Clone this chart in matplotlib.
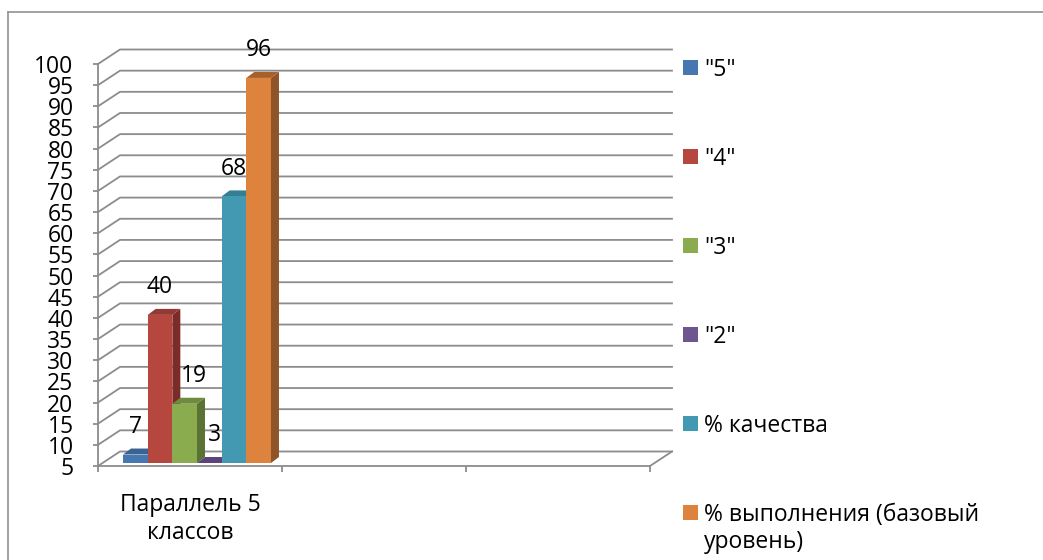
import matplotlib
matplotlib.use('Agg')
import matplotlib.pyplot as plt
import matplotlib.transforms as mtransforms
from matplotlib.patches import Polygon, Rectangle

# data
categories = ['Параллель 5\nклассов', '', '']
series = ['"5"', '"4"', '"3"', '"2"', '% качества', '% выполнения (базовый\nуровень)']
values = [7, 40, 19, 3, 68, 96]
yticks = list(range(5, 101, 5))
ymin, ymax = 5, 100

front_colors = ['#4677b0', '#b5473f', '#8aab4e', '#6e5590', '#4399b2', '#de833e']
side_colors = ['#2f5283', '#7d2b28', '#5a7233', '#4b3866', '#2c6f80', '#8f5427']
top_colors = ['#3a6292', '#943a35', '#6f8b3d', '#5a4479', '#357f93', '#a8602a']

plt.rcParams['font.family'] = ['Open Sans', 'DejaVu Sans']
fs = 16.5
grid_col = '#8c8c8c'

fig = plt.figure(figsize=(10.43, 5.60), dpi=100)

# overlay for frame and legend (pixel coords)
ov = fig.add_axes([0, 0, 1, 1])
ov.set_xlim(0, 1043)
ov.set_ylim(560, 0)
ov.axis('off')
ov.plot([8, 1043], [12, 12], color='#9a9a9a', lw=1.3)
ov.plot([8, 8], [12, 560], color='#9a9a9a', lw=1.3)

# front plane of the 3d chart
ax = fig.add_axes([98 / 1043, (560 - 466) / 560, (650 - 98) / 1043, (466 - 64) / 560])
ax.set_xlim(0, len(categories))
ax.set_ylim(ymin, ymax)
ax.patch.set_alpha(0)
for s in ['top', 'right']:
    ax.spines[s].set_visible(False)
for s in ['left', 'bottom']:
    ax.spines[s].set_color(grid_col)
    ax.spines[s].set_linewidth(1.3)
ax.set_yticks(yticks)
ax.set_yticklabels([str(t) for t in yticks])
ax.set_xticks(range(len(categories) + 1))
ax.set_xticklabels([''] * (len(categories) + 1))
ax.tick_params(axis='y', length=3.6, width=1.3, color=grid_col, pad=14, labelsize=fs)
ax.tick_params(axis='x', length=4.5, width=1.3, color=grid_col)

# depth of the back wall in data units
px_x = (650 - 98) / len(categories)
px_y = (466 - 64) / (ymax - ymin)
wall_dx = 22 / px_x
wall_dy = 14.5 / px_y

for v in yticks:
    ax.plot([0, wall_dx, len(categories) + wall_dx], [v, v + wall_dy, v + wall_dy],
            color=grid_col, lw=1.3, clip_on=False, zorder=1)
ax.plot([len(categories), len(categories) + wall_dx], [ymin, ymin + wall_dy],
        color=grid_col, lw=1.3, clip_on=False, zorder=1)

# category labels
for i, c in enumerate(categories):
    if c:
        ax.annotate(c, xy=(i + 0.5, 0), xycoords=ax.get_xaxis_transform(),
                    xytext=(0, -38), textcoords='offset points',
                    ha='center', va='center', fontsize=fs, linespacing=1.2)

# bars
shift = mtransforms.ScaledTranslation(0, 3 / 100, fig.dpi_scale_trans)
tr = ax.transData + shift
w = 0.134
left = 0.136
bdx = 8 / px_x
bdy = 6 / px_y
label_dx = [0, 0, 6.5, 3.6, 0, 0]
for i, v in enumerate(values):
    x0 = left + w * i
    x1 = x0 + w
    top = max(v, ymin)
    z = 3 + i
    side = Polygon([(x1, ymin), (x1 + bdx, ymin + bdy), (x1 + bdx, top + bdy), (x1, top)],
                   closed=True, facecolor=side_colors[i], edgecolor='none',
                   transform=tr, clip_on=False, zorder=z)
    topf = Polygon([(x0, top), (x0 + bdx, top + bdy), (x1 + bdx, top + bdy), (x1, top)],
                   closed=True, facecolor=top_colors[i], edgecolor='none',
                   transform=tr, clip_on=False, zorder=z)
    ax.add_patch(side)
    ax.add_patch(topf)
    if top > ymin:
        ax.add_patch(Rectangle((x0, ymin), w, top - ymin, facecolor=front_colors[i],
                               edgecolor='none', transform=tr, clip_on=False, zorder=z))
    ax.annotate(str(v), xy=(x0 + w / 2, top), xytext=(label_dx[i], 22),
                textcoords='offset points', ha='center', va='center',
                fontsize=fs, zorder=20)

# legend
for i, name in enumerate(series):
    yc = 67 + 89 * i
    ov.add_patch(Rectangle((683, yc - 7.5), 15, 15, facecolor=front_colors[i], edgecolor='none'))
    ov.text(704, yc - 9, name, ha='left', va='top', fontsize=fs, linespacing=1.15)

fig.savefig('out.png', dpi=100)
